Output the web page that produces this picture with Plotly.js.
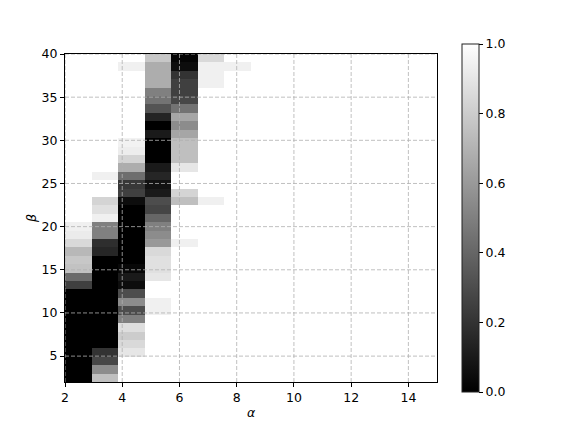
<!DOCTYPE html>
<html>
<head>
<meta charset="utf-8">
<script src="https://cdn.plot.ly/plotly-3.0.1.min.js"></script>
<style>
body { margin: 0; background: #fff; }
#myDiv { width: 580px; height: 434px; }
</style>
</head>
<body>
<div id="myDiv"></div>
<script>
// one array per alpha column, values listed from beta = 2 (first) up to beta = 40 (last)
var alpha2 = [0,0,0,0,0,0,0,0,0,0,0, 0.25,0.42,0.76,0.78,0.72,0.85,0.92,0.94,
	1,1,1,1,1,1,1,1,1,1,1,1,1,1,1,1,1,1,1,1];
var alpha3 = [0.75,0.55,0.28,0.2, 0,0,0,0,0,0,0,0,0,0,0,
	0.15,0.18,0.5,0.5,0.94,0.88,0.83,1,1,0.94,
	1,1,1,1,1,1,1,1,1,1,1,1,1,1];
var alpha4 = [1,1,1,0.9,0.85,0.8,0.87,0.5,0.3,0.55,0.3,0.05,0.1,0.03,
	0,0,0,0,0,0,0,
	0.05,0.25,0.22,0.43,0.68,0.83,0.93,0.95,
	1,1,1,1,1,1,1,1, 0.94,1];
var alpha5 = [1,1,1,1,1,1,1,1, 0.94,0.94,1,1,0.9,0.88,0.88,0.85,0.6,0.55,0.5,0.4,
	0.27,0.3,0.1,0.07,0.15,0.1,0,0,0,0.1,0,0.14,0.33,0.45,0.5,0.68,0.68,0.68,0.78];
var alpha6 = [1,1,1,1,1,1,1,1,1,1,1,1,1,1,1,1, 0.94, 1,1,1,1,
	0.75,0.83,1,1,0.9,0.75,0.75,0.75,0.65,0.55,0.65,0.45,0.28,0.25,0.25,0.2,0.05,0.02];
var alpha7 = [1,1,1,1,1,1,1,1,1,1,1,1,1,1,1,1,1,1,1,1,1, 0.94,
	1,1,1,1,1,1,1,1,1,1,1,1,1, 0.94,0.94,0.94,0.85];
var alpha8 = [1,1,1,1,1,1,1,1,1,1,1,1,1,1,1,1,1,1,1,1,1,1,1,1,1,1,1,1,1,1,1,1,1,1,1,1,1, 0.94,1];
var alpha9 = [1,1,1,1,1,1,1,1,1,1,1,1,1,1,1,1,1,1,1,1,1,1,1,1,1,1,1,1,1,1,1,1,1,1,1,1,1,1,1];
var alpha10 = [1,1,1,1,1,1,1,1,1,1,1,1,1,1,1,1,1,1,1,1,1,1,1,1,1,1,1,1,1,1,1,1,1,1,1,1,1,1,1];
var alpha11 = [1,1,1,1,1,1,1,1,1,1,1,1,1,1,1,1,1,1,1,1,1,1,1,1,1,1,1,1,1,1,1,1,1,1,1,1,1,1,1];
var alpha12 = [1,1,1,1,1,1,1,1,1,1,1,1,1,1,1,1,1,1,1,1,1,1,1,1,1,1,1,1,1,1,1,1,1,1,1,1,1,1,1];
var alpha13 = [1,1,1,1,1,1,1,1,1,1,1,1,1,1,1,1,1,1,1,1,1,1,1,1,1,1,1,1,1,1,1,1,1,1,1,1,1,1,1];
var alpha14 = [1,1,1,1,1,1,1,1,1,1,1,1,1,1,1,1,1,1,1,1,1,1,1,1,1,1,1,1,1,1,1,1,1,1,1,1,1,1,1];
var alpha15 = [1,1,1,1,1,1,1,1,1,1,1,1,1,1,1,1,1,1,1,1,1,1,1,1,1,1,1,1,1,1,1,1,1,1,1,1,1,1,1];

var xTicks = [2, 4, 6, 8, 10, 12, 14];
var yTicks = [5, 10, 15, 20, 25, 30, 35, 40];
var cbTicks = [0, 0.2, 0.4, 0.6, 0.8, 1.0];
var cbLabels = ["0.0", "0.2", "0.4", "0.6", "0.8", "1.0"];

var columns = [alpha2, alpha3, alpha4, alpha5, alpha6, alpha7, alpha8,
	alpha9, alpha10, alpha11, alpha12, alpha13, alpha14, alpha15];


function build_z(){
	// turn the column arrays into heatmap rows (one row per beta)
	var z = [];
	for (var j = 0; j < columns[0].length; j++) {
		var row = [];
		for (var i = 0; i < columns.length; i++) {
			row.push(columns[i][j]);
		}
		z.push(row);
	}
	return z;
}


function grid_shapes(){
	// plotly keeps its grid under the heatmap, so draw the dashed grid on top
	var shapes = [];
	var gridLine = {color: "#b0b0b0", width: 0.8, dash: "4px,2px"};
	for (var tx of xTicks) {
		shapes.push({type: "line", xref: "x", yref: "paper", x0: tx, x1: tx, y0: 0, y1: 1,
			line: gridLine, layer: "above"});
	}
	for (var ty of yTicks) {
		shapes.push({type: "line", xref: "paper", yref: "y", x0: 0, x1: 1, y0: ty, y1: ty,
			line: gridLine, layer: "above"});
	}
	return shapes;
}


function plot_map(){
	var z = build_z();
	var nx = columns.length;
	var ny = columns[0].length;

	// image stretched over extent [2, 15] x [2, 40] like imshow
	var dx = (15 - 2) / nx;
	var dy = (40 - 2) / ny;

	var trace = {
		type: "heatmap",
		z: z,
		x0: 2 + dx / 2,
		dx: dx,
		y0: 2 + dy / 2,
		dy: dy,
		zmin: 0,
		zmax: 1,
		colorscale: [[0, "#000000"], [1, "#ffffff"]],
		hoverinfo: "skip",
		colorbar: {
			x: 1.067,
			xanchor: "left",
			y: 0.5,
			yanchor: "middle",
			thickness: 17,
			lenmode: "pixels",
			len: 348,
			outlinewidth: 1,
			outlinecolor: "#222",
			ticks: "outside",
			ticklen: 4,
			tickcolor: "#000",
			tickvals: cbTicks,
			ticktext: cbLabels,
			tickfont: {size: 12.5, color: "#000"},
			xpad: 0,
			ypad: 0
		}
	};

	var axisStyle = {
		showgrid: false,
		layer: "above traces",
		showline: true,
		mirror: true,
		linecolor: "#000",
		linewidth: 1,
		ticks: "outside",
		ticklen: 4,
		tickcolor: "#000",
		zeroline: false,
		tickfont: {size: 12.5, color: "#000"}
	};

	var layout = {
		width: 580,
		height: 434,
		margin: {l: 65, r: 143, t: 54, b: 52},
		paper_bgcolor: "#fff",
		plot_bgcolor: "#fff",
		font: {family: "DejaVu Sans", color: "#000"},
		xaxis: Object.assign({}, axisStyle, {
			range: [2, 15],
			tickvals: xTicks,
			title: {text: "<i>α</i>", font: {size: 12.5}, standoff: 4}
		}),
		yaxis: Object.assign({}, axisStyle, {
			range: [2, 40],
			tickvals: yTicks,
			title: {text: "<i>β</i>", font: {size: 12.5}, standoff: 2}
		}),
		shapes: grid_shapes()
	};

	var config = {staticPlot: true};
	Plotly.newPlot("myDiv", [trace], layout, config);
}

plot_map();
</script>
</body>
</html>
